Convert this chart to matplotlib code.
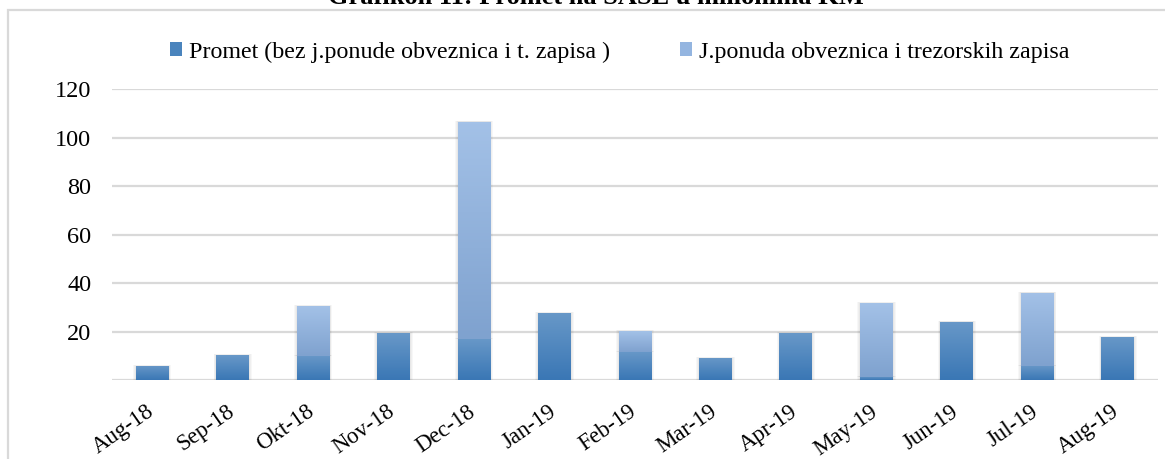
import matplotlib.pyplot as plt
import matplotlib.transforms as mtransforms
import numpy as np
from matplotlib.patches import Patch, Rectangle
from matplotlib.colors import LinearSegmentedColormap

plt.rcParams['font.family'] = ['Liberation Serif', 'DejaVu Serif']

# data (milioni KM)
months = ['Aug-18', 'Sep-18', 'Okt-18', 'Nov-18', 'Dec-18', 'Jan-19', 'Feb-19',
          'Mar-19', 'Apr-19', 'May-19', 'Jun-19', 'Jul-19', 'Aug-19']
promet = [5.8, 10.3, 10.0, 19.4, 17.0, 27.7, 11.6, 9.1, 19.4, 1.4, 24.0, 5.8, 17.8]
ponuda = [0, 0, 20.6, 0, 89.6, 0, 8.6, 0, 0, 30.4, 0, 30.2, 0]

label_promet = 'Promet (bez j.ponude obveznica i t. zapisa )'
label_ponuda = 'J.ponuda obveznica i trezorskih zapisa'
title = 'Grafikon 11: Promet na SASE u milionima KM'

# gradient colours (bottom -> top)
cmap_dark = LinearSegmentedColormap.from_list('dark', ['#3a77b5', '#6898c8'])
cmap_light = LinearSegmentedColormap.from_list('light', ['#7fa2cf', '#a3c1e7'])

W, H = 1165, 459
fig = plt.figure(figsize=(W / 100, H / 100), dpi=100)
ax = fig.add_axes([112 / W, (H - 380) / H, (1158 - 112) / W, (380 - 89.3) / H])

x = np.arange(len(months))
bw = 0.41
b1 = ax.bar(x, promet, width=bw, color='none', edgecolor='none', zorder=3)
b2 = ax.bar(x, ponuda, width=bw, bottom=promet, color='none', edgecolor='none', zorder=3)

grad = np.linspace(1, 0, 64).reshape(-1, 1)


def fill_gradient(bars, cmap):
    for p in bars.patches:
        x0, y0 = p.get_x(), p.get_y()
        w, h = p.get_width(), p.get_height()
        if h <= 0:
            continue
        # soft side shadow
        for k in range(1, 4):
            dx = 0.011 * k
            ax.add_patch(Rectangle((x0 - dx, y0), w + 2 * dx, h + 0.15 * k, facecolor='#000000',
                                   alpha=0.03, edgecolor='none', zorder=2))
        im = ax.imshow(grad, extent=[x0, x0 + w, y0, y0 + h], aspect='auto',
                       cmap=cmap, zorder=4, interpolation='bilinear')
        im.set_clip_path(p)


fill_gradient(b1, cmap_dark)
fill_gradient(b2, cmap_light)

ax.set_xlim(-0.5, len(months) - 0.5)
ax.set_ylim(0, 120)
ax.set_yticks(np.arange(0, 121, 20))
ax.set_yticklabels([''] + [str(v) for v in range(20, 121, 20)])
ax.set_xticks(x)
ax.set_xticklabels(months, rotation=35, ha='right', va='baseline', rotation_mode='anchor')
ax.tick_params(axis='y', length=0, pad=15, labelsize=17.5)
ax.tick_params(axis='x', length=0, pad=24.5, labelsize=16.5)
shift = mtransforms.ScaledTranslation(2.5 / 100, 0, fig.dpi_scale_trans)
for lbl in ax.get_xticklabels():
    lbl.set_transform(lbl.get_transform() + shift)
ax.grid(axis='y', color='#d9d9d9', lw=1.6, zorder=1)
ax.set_axisbelow(True)
for s in ax.spines.values():
    s.set_visible(False)

handles = [Patch(facecolor='#4a84bd', edgecolor='none'),
           Patch(facecolor='#94b5e0', edgecolor='none')]
fig.legend(handles, [label_promet, label_ponuda], loc='center', ncol=2,
           bbox_to_anchor=(620 / W, (H - 52) / H), frameon=False, fontsize=17.3,
           handlelength=0.5, handleheight=0.5, handletextpad=0.3, columnspacing=2.9)

# chart frame
fig.patches.append(Rectangle((8 / W, -0.1), 1.2, (H - 10) / H + 0.1, transform=fig.transFigure,
                             facecolor='none', edgecolor='#d9d9d9', lw=1.6))
fig.text(596 / W, (H - 4) / H, title, ha='center', va='baseline', fontsize=19, weight='bold')

fig.savefig('out.png', dpi=100)
